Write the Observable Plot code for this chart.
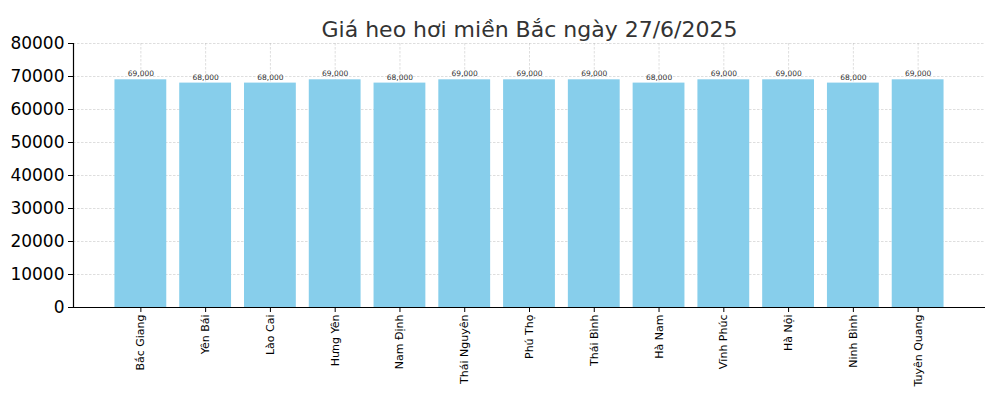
<!DOCTYPE html>
<html>
<head>
<meta charset="utf-8">
<script src="https://cdn.jsdelivr.net/npm/d3@7"></script>
<script src="https://cdn.jsdelivr.net/npm/@observablehq/plot@0.6"></script>
<style>
  html, body { margin: 0; padding: 0; background: #fff; }
  #chart svg { display: block; }
</style>
</head>
<body>
<div id="chart"></div>
<script>
const provinces = ["Bắc Giang", "Yên Bái", "Lào Cai", "Hưng Yên", "Nam Định", "Thái Nguyên", "Phú Thọ", "Thái Bình", "Hà Nam", "Vĩnh Phúc", "Hà Nội", "Ninh Bình", "Tuyên Quang"];
const prices = [69000, 68000, 68000, 69000, 68000, 69000, 69000, 69000, 68000, 69000, 69000, 68000, 69000];
const yTicks = [0, 10000, 20000, 30000, 40000, 50000, 60000, 70000, 80000];
const title = "Giá heo hơi miền Bắc ngày 27/6/2025";

const data = provinces.map((p, i) => ({province: p, price: prices[i]}));
const font = "DejaVu Sans, sans-serif";

const chart = Plot.plot({
  width: 1000,
  height: 400,
  marginLeft: 73,
  marginRight: 15,
  marginTop: 43,
  marginBottom: 93,
  style: {fontFamily: font, background: "#fff"},
  x: {domain: provinces, paddingInner: 0.2, paddingOuter: 0.64, round: false, label: null},
  y: {domain: [0, 80000], label: null},
  marks: [
    Plot.gridY(yTicks, {stroke: "#b0b0b0", strokeOpacity: 0.7, strokeDasharray: "2.5,1.5", strokeWidth: 0.6}),
    Plot.gridX(provinces, {stroke: "#b0b0b0", strokeOpacity: 0.7, strokeDasharray: "2.5,1.5", strokeWidth: 0.6}),
    Plot.barY(data, {x: "province", y: "price", fill: "#87ceeb"}),
    Plot.text(data, {x: "province", y: "price", text: d => d3.format(",")(d.price), dy: -6, fontSize: 7.5, fill: "#333"}),
    Plot.axisY(yTicks, {tickFormat: d => String(d), fontSize: 17, tickSize: 5, tickPadding: 4, stroke: "#000", fill: "#000"}),
    Plot.axisX({tickRotate: -90, fontSize: 11, tickSize: 5, tickPadding: 2, fill: "#000"}),
    Plot.ruleY([0], {stroke: "#000", strokeWidth: 1.2}),
    Plot.frame({anchor: "left", stroke: "#000", strokeWidth: 1.2}),
    Plot.text([title], {frameAnchor: "top", dy: -22, fontSize: 22, fill: "#333", text: d => d})
  ]
});
document.getElementById("chart").appendChild(chart);
</script>
</body>
</html>
